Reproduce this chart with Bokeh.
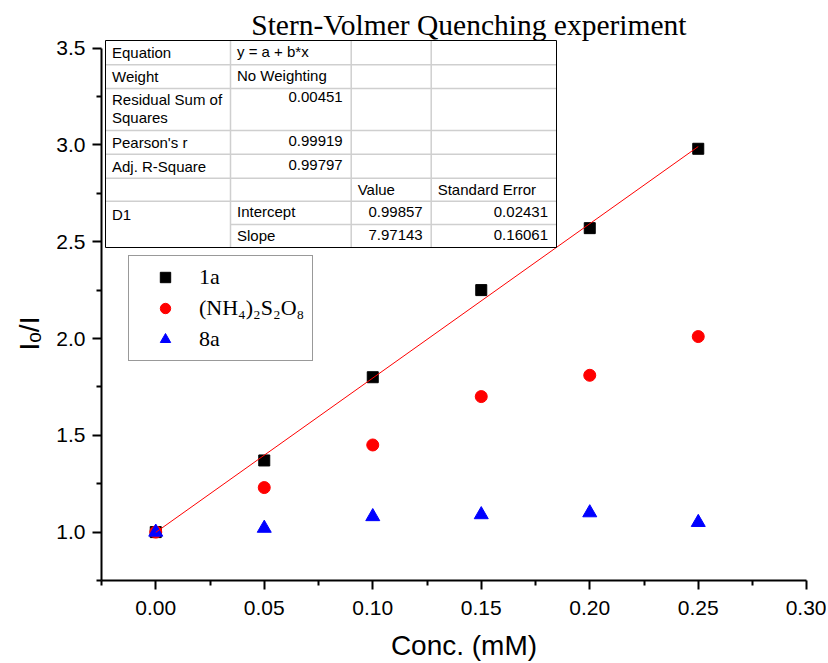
import math
from bokeh.plotting import figure
from bokeh.models import (FixedTicker, NumeralTickFormatter, Label, Legend, Title)
from bokeh.core.properties import value
from bokeh.embed import file_html
from bokeh.resources import INLINE

# ---------------- data ----------------
conc = [0.00, 0.05, 0.10, 0.15, 0.20, 0.25]
ratio_1a = [1.00, 1.37, 1.80, 2.25, 2.57, 2.98]
ratio_nh4 = [1.00, 1.23, 1.45, 1.70, 1.81, 2.01]
ratio_8a = [1.00, 1.02, 1.08, 1.09, 1.10, 1.05]

fit_intercept = 0.99857
fit_slope = 7.97143
fit_x = [0.00, 0.25]
fit_y = [fit_intercept + fit_slope * v for v in fit_x]

x_ticks = [0.00, 0.05, 0.10, 0.15, 0.20, 0.25, 0.30]
x_minor = [-0.025, 0.025, 0.075, 0.125, 0.175, 0.225, 0.275]
y_ticks = [1.0, 1.5, 2.0, 2.5, 3.0, 3.5]
y_minor = [0.75, 1.25, 1.75, 2.25, 2.75, 3.25]

# ---------------- geometry ----------------
FW, FH = 725, 580
LEFT_PX = 101.0
X0 = -0.025
KX = 2170.0
X1 = X0 + FW / KX
Y0 = 0.75
KY = 193.6
Y1 = Y0 + FH / KY


def px2x(px):
    return X0 + (px - LEFT_PX) / KX


def py2y(py):
    return Y1 - py / KY


p = figure(frame_width=FW, frame_height=FH, x_range=(X0, X1), y_range=(Y0, Y1),
           output_backend="svg", toolbar_location=None, title="",
           min_border_left=101, min_border_right=0, min_border_top=0, min_border_bottom=80)
p.outline_line_color = None
p.xgrid.visible = False
p.ygrid.visible = False
p.background_fill_color = "white"

# ---------------- axes ----------------
for ax in (p.xaxis[0], p.yaxis[0]):
    ax.axis_line_width = 2
    ax.major_tick_line_width = 2
    ax.minor_tick_line_width = 2
    ax.major_tick_in = 0
    ax.major_tick_out = 9
    ax.minor_tick_in = 0
    ax.minor_tick_out = 5
    ax.major_label_text_font = "Liberation Sans"
    ax.major_label_text_font_size = "21px"
    ax.major_label_text_color = "black"
    ax.axis_label_text_font = "Liberation Sans"
    ax.axis_label_text_font_style = "normal"
    ax.axis_label_text_color = "black"

p.xaxis[0].ticker = FixedTicker(ticks=x_ticks, minor_ticks=x_minor)
p.yaxis[0].ticker = FixedTicker(ticks=y_ticks, minor_ticks=y_minor)
p.xaxis[0].formatter = NumeralTickFormatter(format="0.00")
p.yaxis[0].formatter = NumeralTickFormatter(format="0.0")
p.xaxis[0].bounds = (-0.025, 0.30)
p.yaxis[0].bounds = (0.75, 3.5)
p.xaxis[0].major_label_standoff = 11
p.yaxis[0].major_label_standoff = 7
p.xaxis[0].axis_label = "Conc. (mM)"
p.xaxis[0].axis_label_text_font_size = "28px"
p.xaxis[0].axis_label_standoff = 12

# y axis label, placed in the left panel and shifted like the original
ylab = Title(text="I\u2092/I", align="left", offset=230, vertical_align="top",
             text_font="Liberation Sans", text_font_size="28px",
             text_font_style="normal", text_color="black", standoff=14)
p.add_layout(ylab, "left")

# ---------------- data marks ----------------
r1 = p.scatter(conc, ratio_1a, marker="square", size=11, color="black")
r2 = p.scatter(conc, ratio_nh4, marker="circle", size=12, color="red")
r3 = p.scatter(conc, ratio_8a, marker="triangle", size=14, color="blue")
p.line(fit_x, fit_y, line_color="red", line_width=1)

legend = Legend(items=[("1a", [r1]), ("(NH\u2084)\u2082S\u2082O\u2088", [r2]), ("8a", [r3])],
                location=(27, 219))
legend.label_text_font = "Liberation Serif"
legend.label_text_font_size = "22px"
legend.label_text_color = "black"
legend.border_line_color = "#333333"
legend.border_line_width = 1
legend.background_fill_color = "white"
legend.background_fill_alpha = 1
legend.padding = 8
legend.margin = 0
legend.glyph_width = 56
legend.glyph_height = 26
legend.label_height = 26
legend.label_standoff = 6
legend.spacing = 5
p.add_layout(legend)

# ---------------- title ----------------
p.add_layout(Label(x=px2x(468.4), y=py2y(24.8), text="Stern-Volmer Quenching experiment",
                   text_align="center", text_baseline="alphabetic",
                   text_font="Liberation Serif", text_font_size="29.5px",
                   text_color="black"))

# ---------------- fit report table ----------------
col_px = [105, 230, 350.7, 430.7, 556]
row_px = [40, 64.3, 88, 130, 153.7, 177.7, 200.7, 224, 247]

p.quad(left=[px2x(col_px[0])], right=[px2x(col_px[-1])],
       top=[py2y(row_px[0])], bottom=[py2y(row_px[-1])],
       fill_color="white", line_color=None)

hx0, hx1, hy0, hy1 = [], [], [], []
for r in row_px[1:-2]:
    hx0.append(px2x(col_px[0])); hx1.append(px2x(col_px[-1]))
    hy0.append(py2y(r)); hy1.append(py2y(r))
hx0.append(px2x(col_px[1])); hx1.append(px2x(col_px[-1]))
hy0.append(py2y(row_px[7])); hy1.append(py2y(row_px[7]))
for c in col_px[1:-1]:
    hx0.append(px2x(c)); hx1.append(px2x(c))
    hy0.append(py2y(row_px[0])); hy1.append(py2y(row_px[-1]))
p.segment(hx0, hy0, hx1, hy1, line_color="#cfcfcf", line_width=1.5)

p.quad(left=[px2x(col_px[0])], right=[px2x(col_px[-1])],
       top=[py2y(row_px[0])], bottom=[py2y(row_px[-1])],
       fill_color=None, line_color="black", line_width=1)

left_texts = [
    ("Equation", 0, 52.2), ("y = a + b*x", 1, 50.5),
    ("Weight", 0, 76.2), ("No Weighting", 1, 74.5),
    ("Residual Sum of", 0, 98.5), ("Squares", 0, 116.5),
    ("Pearson's r", 0, 142.0),
    ("Adj. R-Square", 0, 165.7),
    ("Value", 2, 189.2), ("Standard Error", 3, 189.2),
    ("D1", 0, 213.5),
    ("Intercept", 1, 211.0),
    ("Slope", 1, 234.5),
]
right_texts = [
    ("0.00451", 1, 96.5),
    ("0.99919", 1, 140.5),
    ("0.99797", 1, 164.0),
    ("0.99857", 2, 211.0), ("0.02431", 3, 211.0),
    ("7.97143", 2, 234.5), ("0.16061", 3, 234.5),
]
p.text(x=[px2x(col_px[c] + 6.5) for _, c, _ in left_texts],
       y=[py2y(yy) for _, _, yy in left_texts],
       text=[t for t, _, _ in left_texts],
       text_align="left", text_baseline="middle",
       text_font=value("Liberation Sans"), text_font_size="15px", text_color="black")
p.text(x=[px2x(col_px[c + 1] - 8.5) for _, c, _ in right_texts],
       y=[py2y(yy) for _, _, yy in right_texts],
       text=[t for t, _, _ in right_texts],
       text_align="right", text_baseline="middle",
       text_font=value("Liberation Sans"), text_font_size="15px", text_color="black")

open("out.html", "w").write(file_html(p, INLINE))
